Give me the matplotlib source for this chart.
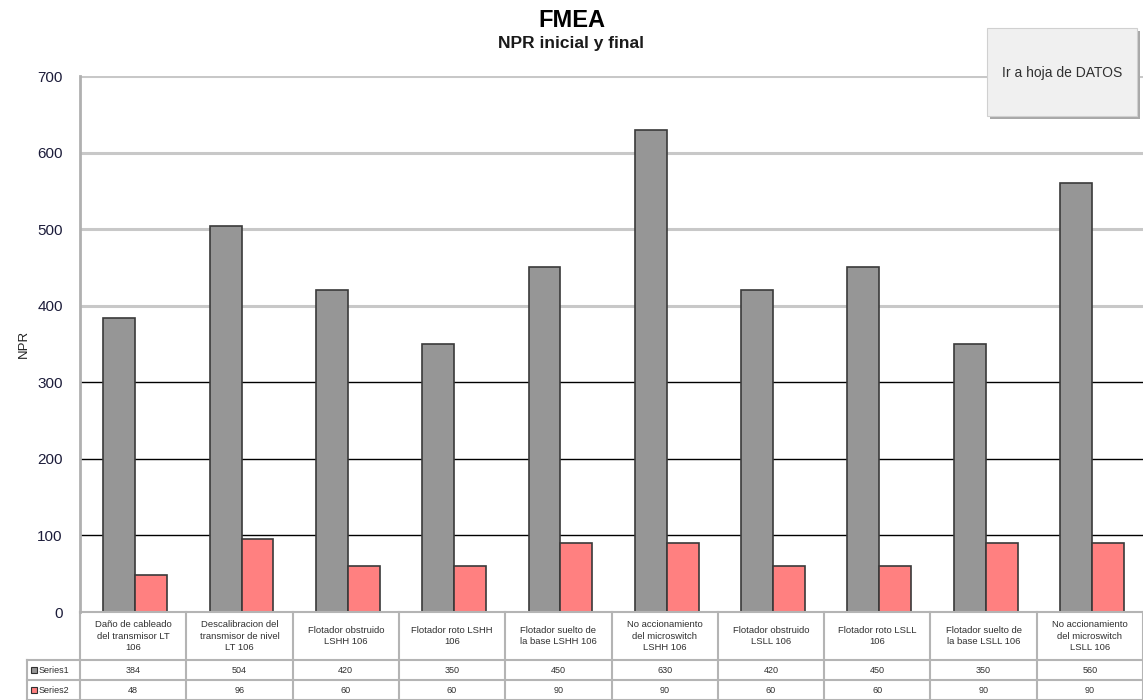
import numpy as np
import matplotlib.pyplot as plt
from matplotlib.patches import Rectangle

plt.rcParams['font.family'] = ['Liberation Sans', 'DejaVu Sans']

categorias = [
    "Daño de cableado\ndel transmisor LT\n106",
    "Descalibracion del\ntransmisor de nivel\nLT 106",
    "Flotador obstruido\nLSHH 106",
    "Flotador roto LSHH\n106",
    "Flotador suelto de\nla base LSHH 106",
    "No accionamiento\ndel microswitch\nLSHH 106",
    "Flotador obstruido\nLSLL 106",
    "Flotador roto LSLL\n106",
    "Flotador suelto de\nla base LSLL 106",
    "No accionamiento\ndel microswitch\nLSLL 106",
]
npr_inicial = [384, 504, 420, 350, 450, 630, 420, 450, 350, 560]
npr_final = [48, 96, 60, 60, 90, 90, 60, 60, 90, 90]
series = ["Series1", "Series2"]
colores = ["#969696", "#ff8080"]
yticks = [0, 100, 200, 300, 400, 500, 600, 700]

fig = plt.figure(figsize=(11.43, 7), dpi=100)
ax = fig.add_axes([0.07, 0.1257, 0.93, 0.7657])

x = np.arange(len(categorias))
w = 0.3

# gridlines: light above 300, black below
for t in yticks[1:]:
    if t >= 400:
        ax.axhline(t, color="#c8c8c8", lw=2.2, zorder=0)
    else:
        ax.axhline(t, color="black", lw=1.0, zorder=0)

ax.bar(x - w / 2 + 0.02, npr_inicial, w, color=colores[0], edgecolor="#3a3a3a", lw=1.2, zorder=2)
ax.bar(x + w / 2 + 0.02, npr_final, w, color=colores[1], edgecolor="#3a3a3a", lw=1.2, zorder=2)

ax.set_xlim(-0.5, len(categorias) - 0.5)
ax.set_ylim(0, 700)
ax.set_xticks([])
ax.set_yticks(yticks)
ax.tick_params(axis="y", length=0, pad=12.5, labelsize=11, labelcolor="#1c1c3a")
for s in ["top", "right", "bottom"]:
    ax.spines[s].set_visible(False)
ax.spines["left"].set_color("#b0b0b0")
ax.spines["left"].set_linewidth(2)
ax.set_ylabel("NPR", fontsize=9.5, labelpad=5, color="#222222")

# data table under the plot
tr = ax.get_xaxis_transform()
h_cat = 48 / 536
h_row = 20 / 536
y1 = -h_cat
y2 = y1 - h_row
y3 = y2 - h_row
x_left = -0.5 - 53 / 106.3
gc = "#b4b4b4"
tc = "#303030"
ax.plot([-0.5, 9.5], [0, 0], color=gc, lw=1.5, transform=tr, clip_on=False)
for yy in [y1, y2, y3]:
    ax.plot([x_left, 9.5], [yy, yy], color=gc, lw=1.5, transform=tr, clip_on=False)
for b in np.arange(len(categorias) + 1) - 0.5:
    ax.plot([b, b], [0, y3], color=gc, lw=1.5, transform=tr, clip_on=False)
ax.plot([x_left, x_left], [y1, y3], color=gc, lw=1.5, transform=tr, clip_on=False)

for i, c in enumerate(categorias):
    ax.text(i, y1 / 2, c, transform=tr, ha="center", va="center", fontsize=6.8,
            linespacing=1.3, color=tc)
    ax.text(i, (y1 + y2) / 2, str(npr_inicial[i]), transform=tr, ha="center", va="center",
            fontsize=6.5, color=tc)
    ax.text(i, (y2 + y3) / 2, str(npr_final[i]), transform=tr, ha="center", va="center",
            fontsize=6.5, color=tc)

for k, (nombre, col) in enumerate(zip(series, colores)):
    yc = (y1 + y2) / 2 if k == 0 else (y2 + y3) / 2
    ax.add_patch(Rectangle((x_left + 0.04, yc - 0.006), 0.05, 0.012, transform=tr,
                           facecolor=col, edgecolor=tc, lw=0.8, clip_on=False))
    ax.text(x_left + 0.11, yc, nombre, transform=tr, ha="left", va="center",
            fontsize=6.5, color=tc)

fig.text(0.5, 0.971, "FMEA", ha="center", va="center", fontsize=17, fontweight="bold")
fig.text(0.5, 0.938, "NPR inicial y final", ha="center", va="center", fontsize=12.5,
         fontweight="bold", color="#1a1a1a")

# button box at the top right
fig.patches.append(Rectangle((990 / 1143, 1 - 119 / 700), 150 / 1143, 88 / 700,
                             transform=fig.transFigure, facecolor="#a8a8a8",
                             edgecolor="none", zorder=5))
fig.patches.append(Rectangle((987 / 1143, 1 - 116 / 700), 150 / 1143, 88 / 700,
                             transform=fig.transFigure, facecolor="#f0f0f0",
                             edgecolor="#d0d0d0", lw=0.8, zorder=6))
fig.text(1062 / 1143, 1 - 73 / 700, "Ir a hoja de DATOS", ha="center", va="center",
         fontsize=10, color="#303030", zorder=7)

fig.savefig("out.png", dpi=100)
